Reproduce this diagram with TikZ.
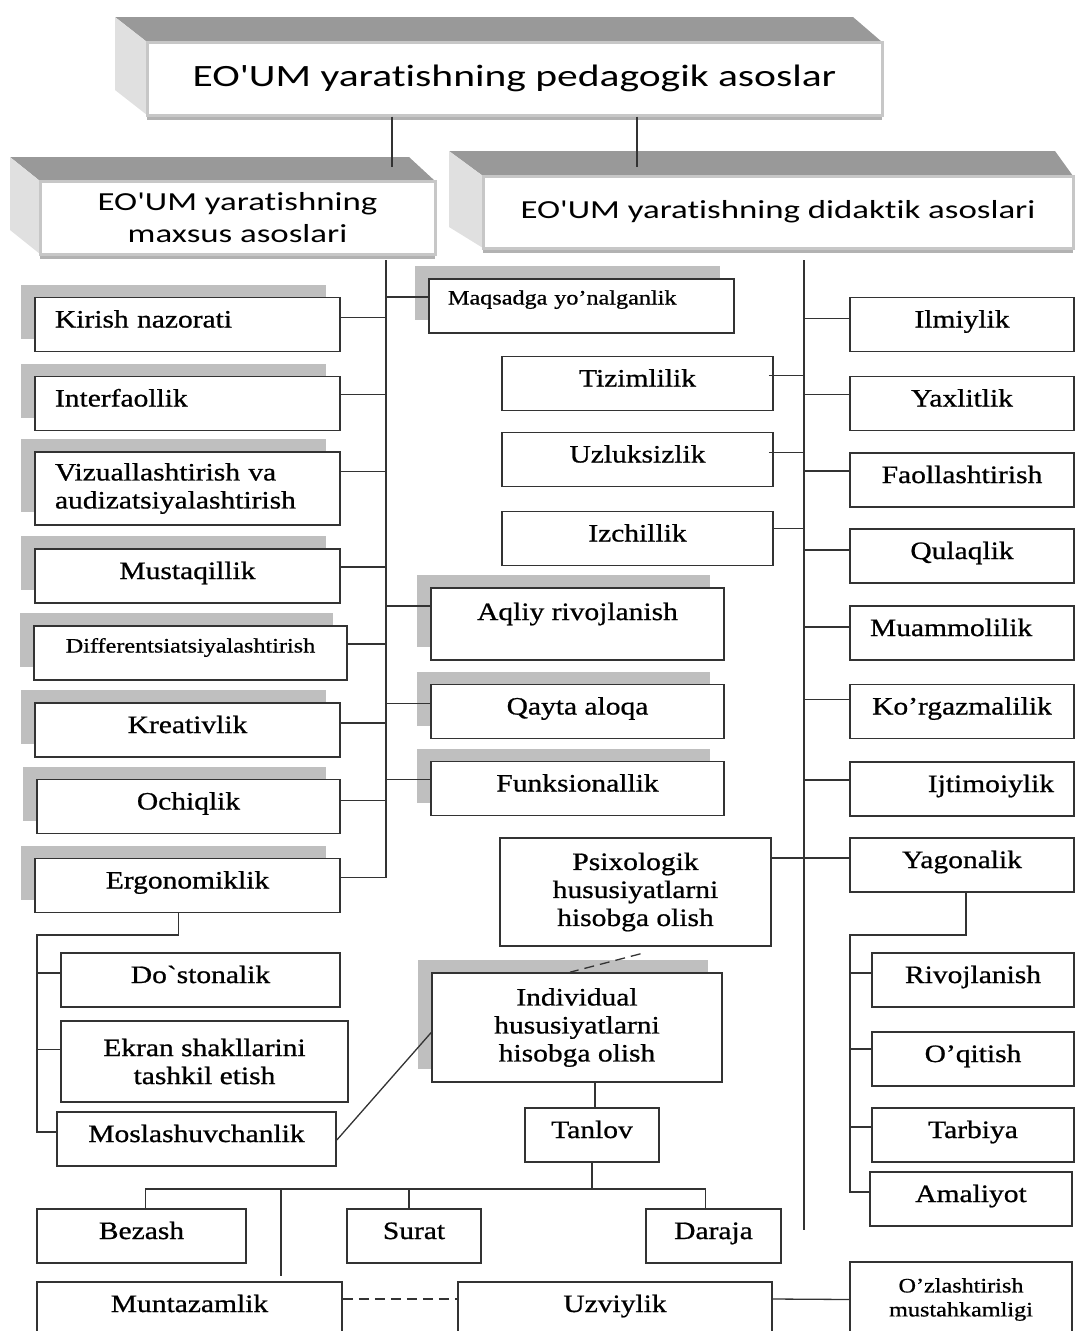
\documentclass[tikz,border=0pt]{standalone}
\usepackage{fontspec}
\setmainfont{Liberation Serif}[FakeStretch=1.18,FakeBold=0.8,Ligatures={TeXOff,CommonOff}]
\newfontfamily\hdfont{Carlito}[FakeStretch=1.34,Ligatures={TeXOff,CommonOff}]
\usetikzlibrary{shadows}

\tikzset{
  box/.style={draw=black!80, line width=1.6pt, fill=white, inner sep=0pt,
    minimum height=54pt, font=\fontsize{25}{28}\selectfont,
    text height=16pt, text depth=10pt},
  sbox/.style={box, general shadow={fill=black!25, shadow xshift=-14pt, shadow yshift=13pt}},
  mbox/.style={align=center, text height={}, text depth={}},
  hdr/.style={draw=black!22, line width=3pt, fill=white, inner sep=0pt, align=center,
    general shadow={fill=black!30, shadow yshift=-5pt},
    font=\hdfont\fontsize{26}{32}\selectfont},
  topface/.style={fill=black!40},
  sideface/.style={fill=black!12},
  conn/.style={draw=black!80, line width=1.3pt},
}

\begin{document}
\begin{tikzpicture}[x=1pt,y=-1pt]
  \useasboundingbox (0,0) rectangle (1075,1331);
  \clip (0,0) rectangle (1075,1331);

  \fill[topface] (115,17) -- (853,17) -- (882,42) -- (147,42) -- cycle;
  \fill[sideface] (115,17) -- (147,42) -- (147,115) -- (115,90) -- cycle;
  \fill[topface] (10,157) -- (409,157) -- (435,181) -- (40,181) -- cycle;
  \fill[sideface] (10,157) -- (40,181) -- (40,254) -- (10,230) -- cycle;
  \fill[topface] (449,151) -- (1055,151) -- (1073,176) -- (483,176) -- cycle;
  \fill[sideface] (449,151) -- (483,176) -- (483,248) -- (449,227) -- cycle;

  \node[hdr, minimum width=735, minimum height=73, font=\hdfont\fontsize{31}{36}\selectfont] (top) at (514.5,78.5) {EO'UM yaratishning pedagogik asoslar};
  \node[hdr, minimum width=395, minimum height=73] (spec) at (237.5,217.5) {EO'UM yaratishning\\maxsus asoslari};
  \node[hdr, minimum width=590, minimum height=72] (did) at (778,212) {EO'UM yaratishning didaktik asoslari};

  \node[sbox, minimum width=305, align=left, text width=265] (kirish) at (187.5,324.5) {Kirish nazorati};
  \node[sbox, minimum width=305, align=left, text width=265] (interf) at (187.5,403.5) {Interfaollik};
  \node[sbox, mbox, minimum width=305, minimum height=73, align=left, text width=265] (vizual) at (187.5,488.5) {Vizuallashtirish va\\audizatsiyalashtirish};
  \node[sbox, minimum width=305] (mustaq) at (187.5,576) {Mustaqillik};
  \node[sbox, minimum width=313, font=\fontsize{20.5}{24}\selectfont, text height=14pt, text depth=15pt] (diff) at (190.5,653) {Differentsiatsiyalashtirish};
  \node[sbox, minimum width=305] (kreativ) at (187.5,730) {Kreativlik};
  \node[sbox, minimum width=303] (ochiq) at (188.5,806.5) {Ochiqlik};
  \node[sbox, minimum width=305] (ergo) at (187.5,885.5) {Ergonomiklik};

  \node[box, minimum width=279] (dost) at (200.5,980) {Do`stonalik};
  \node[box, mbox, minimum width=287, minimum height=81] (ekran) at (204.5,1061.5) {Ekran shakllarini\\tashkil etish};
  \node[box, minimum width=279] (moslash) at (196.5,1139) {Moslashuvchanlik};

  \node[sbox, minimum width=305, align=left, text width=267, font=\fontsize{20.5}{24}\selectfont, text height=14pt, text depth=17pt] (maqs) at (581.5,306) {Maqsadga yo’nalganlik};
  \node[box, minimum width=271] (tizim) at (637.5,383.5) {Tizimlilik};
  \node[box, minimum width=271] (uzluk) at (637.5,459.5) {Uzluksizlik};
  \node[box, minimum width=271] (izch) at (637.5,538.5) {Izchillik};
  \node[sbox, minimum width=293, minimum height=72, text depth=24pt] (aqliy) at (577.5,624) {Aqliy rivojlanish};
  \node[sbox, minimum width=293] (qayta) at (577.5,711.5) {Qayta aloqa};
  \node[sbox, minimum width=293] (funk) at (577.5,788.5) {Funksionallik};
  \node[box, mbox, minimum width=271, minimum height=108] (psix) at (635.5,892) {Psixologik\\hususiyatlarni\\hisobga olish};
  \node[sbox, mbox, minimum width=290, minimum height=109] (indiv) at (577,1027.5) {Individual\\hususiyatlarni\\hisobga olish};
  \node[box, minimum width=134] (tanlov) at (592,1135) {Tanlov};

  \node[box, minimum width=209] (bezash) at (141.5,1236) {Bezash};
  \node[box, minimum width=134] (surat) at (414,1236) {Surat};
  \node[box, minimum width=135] (daraja) at (713.5,1236) {Daraja};
  \node[box, minimum width=305] (muntaz) at (189.5,1309) {Muntazamlik};
  \node[box, minimum width=314] (uzviy) at (615,1309) {Uzviylik};
  \node[box, mbox, minimum width=222, minimum height=75, font=\fontsize{20.5}{24}\selectfont] (ozlash) at (961,1299.5) {O’zlashtirish\\mustahkamligi};

  \node[box, minimum width=224] (ilm) at (962,324.5) {Ilmiylik};
  \node[box, minimum width=224] (yaxl) at (962,403.5) {Yaxlitlik};
  \node[box, minimum width=224] (faol) at (962,480) {Faollashtirish};
  \node[box, minimum width=224] (qulaq) at (962,556) {Qulaqlik};
  \node[box, minimum width=224, align=left, text width=184] (muamm) at (962,633) {Muammolilik};
  \node[box, minimum width=224] (korgaz) at (962,711.5) {Ko’rgazmalilik};
  \node[box, minimum width=224, align=right, text width=184] (ijtim) at (962,789) {Ijtimoiylik};
  \node[box, minimum width=224] (yagon) at (962,865) {Yagonalik};
  \node[box, minimum width=202] (rivoj) at (973,980) {Rivojlanish};
  \node[box, minimum width=202] (oqit) at (973,1059) {O’qitish};
  \node[box, minimum width=202] (tarb) at (973,1135) {Tarbiya};
  \node[box, minimum width=202] (amal) at (971,1199) {Amaliyot};

  \coordinate (c1) at (392,0);
  \coordinate (c2) at (637,0);
  \coordinate (tl) at (386,260);
  \coordinate (tr) at (804,260);
  \coordinate (trb) at (804,1230);
  \coordinate (eb) at (37,935);
  \coordinate (yb) at (850,935);
  \coordinate (hb) at (0,1189);
  \coordinate (mv) at (281,1189);

  \draw[conn] (top.south -| c1) -- ([yshift=13pt]spec.north -| c1);
  \draw[conn] (top.south -| c2) -- ([yshift=8pt]did.north -| c2);

  \draw[conn] (tl) -- ([yshift=8pt]ergo.east -| tl) -- ([yshift=8pt]ergo.east);
  \foreach \n/\d in {kirish/7, interf/9, vizual/17, mustaq/9, diff/9, kreativ/7, ochiq/6}
    \draw[conn] ([yshift=\d pt]\n.east) -- ([yshift=\d pt]\n.east -| tl);
  \foreach \n/\d in {maqs/9, aqliy/18, qayta/8, funk/9}
    \draw[conn] ([yshift=\d pt]\n.west) -- ([yshift=\d pt]\n.west -| tl);

  \draw[conn] (tr) -- (trb);
  \foreach \n/\d in {ilm/6, yaxl/9, faol/9, qulaq/6, muamm/6, korgaz/12, ijtim/9}
    \draw[conn] ([yshift=\d pt]\n.west) -- ([yshift=\d pt]\n.west -| tr);
  \foreach \n/\s/\d in {tizim/5/8, uzluk/5/7, izch/0/10}
    \draw[conn] ([xshift=-\s pt,yshift=\d pt]\n.east) -- ([yshift=\d pt]\n.east -| tr);
  \draw[conn] ([yshift=7pt]yagon.west -| psix.east) -- ([yshift=7pt]yagon.west);

  \draw[conn] ([xshift=-9pt]ergo.south) |- (eb) |- ([yshift=7pt]moslash.west);
  \foreach \n/\d in {dost/7, ekran/12}
    \draw[conn] ([yshift=\d pt]\n.west) -- ([yshift=\d pt]\n.west -| eb);

  \draw[conn] ([xshift=4pt]yagon.south) |- (yb) |- ([yshift=7pt]amal.west);
  \foreach \n/\d in {rivoj/7, oqit/10, tarb/8}
    \draw[conn] ([yshift=\d pt]\n.west) -- ([yshift=\d pt]\n.west -| yb);

  \draw[conn] ([yshift=-1pt]moslash.east) -- ([yshift=-5pt]indiv.west);
  \draw[conn, dash pattern=on 10pt off 6pt] ([xshift=5pt,yshift=-7pt]psix.south) -- ([xshift=-7pt]indiv.north);
  \draw[conn] ([xshift=3pt]tanlov.north) -- ([xshift=3pt]tanlov.north |- indiv.south);

  \draw[conn] (tanlov.south) -- (tanlov.south |- hb);
  \draw[conn] ([xshift=4pt]bezash.north) -- ([xshift=4pt]bezash.north |- hb) -- ([xshift=-8pt]daraja.north |- hb) -- ([xshift=-8pt]daraja.north);
  \draw[conn] ([xshift=-5pt]surat.north) -- ([xshift=-5pt]surat.north |- hb);
  \draw[conn] (mv) -- ([yshift=5pt]muntaz.north -| mv);

  \draw[conn, dash pattern=on 10pt off 6pt] ([yshift=10pt]muntaz.east) -- ([yshift=10pt]uzviy.west);
  \draw[conn] ([yshift=10pt]uzviy.east) -- (ozlash.west);
\end{tikzpicture}
\end{document}
